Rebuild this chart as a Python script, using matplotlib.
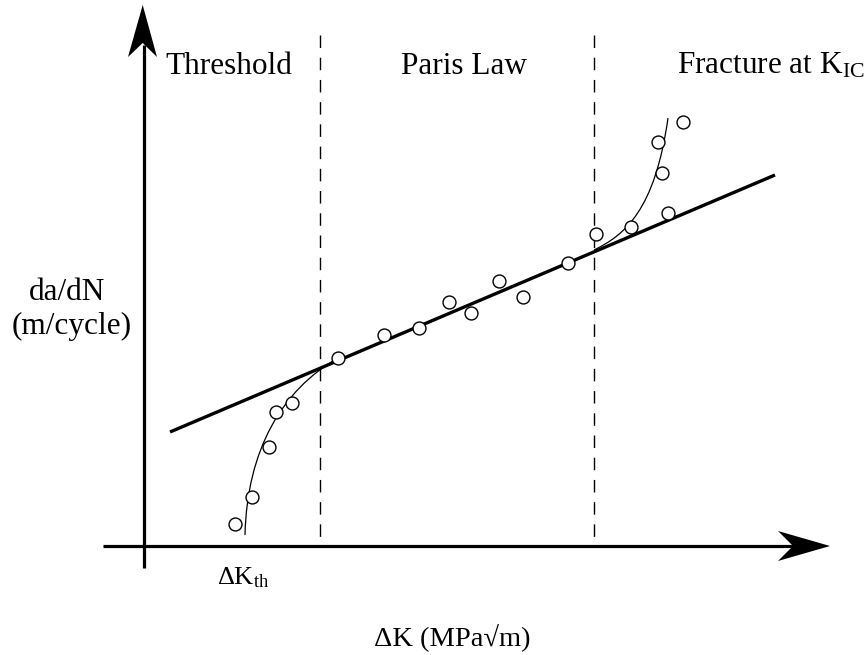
import matplotlib
matplotlib.use("Agg")
import matplotlib.pyplot as plt
from matplotlib.path import Path
from matplotlib.patches import PathPatch, Polygon

plt.rcParams['font.family'] = ['Liberation Serif', 'DejaVu Serif']
plt.rcParams['mathtext.fontset'] = 'custom'
plt.rcParams['mathtext.rm'] = 'Liberation Serif'
plt.rcParams['mathtext.it'] = 'Liberation Serif:italic'

# --- data (schematic coordinates, image space) ---
pts_x = [235, 252, 269, 276, 292, 338, 384, 419, 449, 471, 499, 523, 568, 596, 631, 662, 658, 668, 683]
pts_y = [524, 497, 447, 412, 403, 358, 335, 328, 302, 313, 281, 297, 263, 234, 227, 173, 142, 213, 122]
paris_x = [170, 775]
paris_y = [432, 175]
thr_x = [245, 247, 282, 338]
thr_y = [535, 450, 390, 358]
frac_x = [594, 625, 655, 668]
frac_y = [250, 235, 210, 118]
region_x = [320, 594]
region_labels = ["Threshold", "Paris Law", r"Fracture at K$_{\mathrm{IC}}$"]
region_label_x = [229, 464, 771]

# axis geometry
x0, y0 = 144, 546
fig = plt.figure(figsize=(8.66, 6.55), dpi=100)
ax = fig.add_axes([0, 0, 1, 1])
ax.set_xlim(0, 866)
ax.set_ylim(655, 0)
ax.axis('off')

# axes lines
ax.plot([x0, x0], [568, 45], color='black', lw=2.3, solid_capstyle='butt')
ax.plot([103, 800], [y0, y0], color='black', lw=2.3, solid_capstyle='butt')
# arrowheads (stealth style)
ax.add_patch(Polygon([(x0 - 1.3, 5), (x0 - 16, 57), (x0 - 1.3, 43), (x0 + 13, 57)],
                     closed=True, color='black', lw=0))
ax.add_patch(Polygon([(830, y0), (778, y0 - 15), (793, y0), (778, y0 + 15)],
                     closed=True, color='black', lw=0))

# dashed region separators
for rx in region_x:
    ax.plot([rx, rx], [35, y0], color='black', lw=1.0, linestyle=(0, (9, 7)))

# Paris law line
ax.plot(paris_x, paris_y, color='black', lw=2.4, solid_capstyle='butt')

# threshold and fracture curves (cubic Bezier)
codes = [Path.MOVETO, Path.CURVE4, Path.CURVE4, Path.CURVE4]
ax.add_patch(PathPatch(Path(list(zip(thr_x, thr_y)), codes), fill=False, lw=0.9, color='black'))
ax.add_patch(PathPatch(Path(list(zip(frac_x, frac_y)), codes), fill=False, lw=0.9, color='black'))

# data points
ax.plot(pts_x, pts_y, linestyle='none', marker='o', markersize=9.3,
        markerfacecolor='white', markeredgecolor='black', markeredgewidth=1.0, zorder=5)

# labels
for lx, lab in zip(region_label_x, region_labels):
    ax.text(lx, 66, lab, fontsize=22.5, ha='center', va='center')
ax.text(67, 293, "da/dN", fontsize=22.5, ha='center', va='center')
ax.text(72, 326, "(m/cycle)", fontsize=22.5, ha='center', va='center')
ax.text(243, 578, r"ΔK$_{\mathrm{th}}$", fontsize=19, ha='center', va='center')
ax.text(452, 637, "ΔK (MPa√m)", fontsize=20.5, ha='center', va='center')

fig.savefig("out.png", dpi=100)
